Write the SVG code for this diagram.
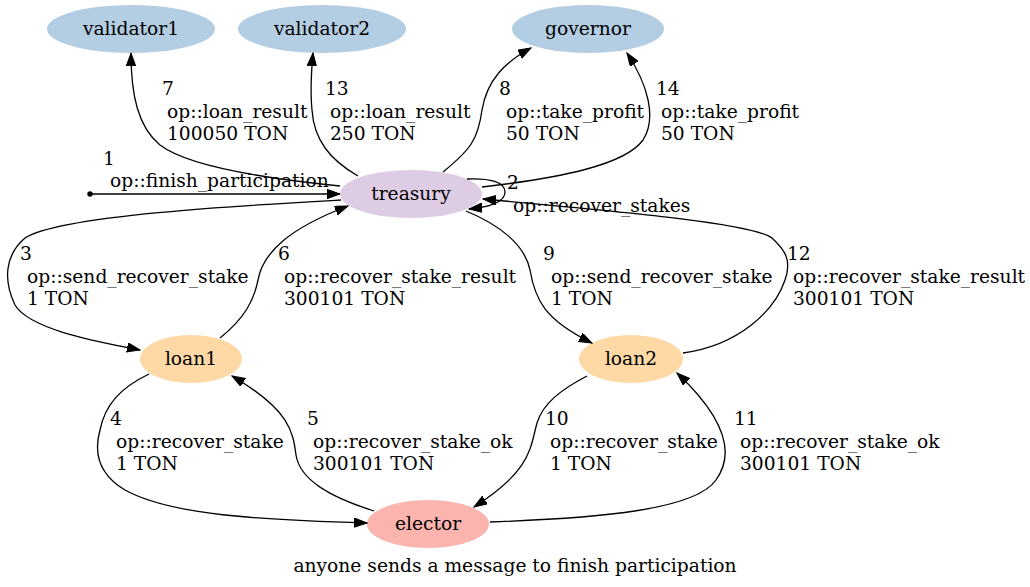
<svg xmlns="http://www.w3.org/2000/svg" width="1030" height="587" viewBox="0 0 1030 587">
<style>
text{font-family:"DejaVu Serif","Liberation Serif",serif;font-size:18.67px;fill:#000}
.n text{text-anchor:middle}
.e path{fill:none;stroke:#000;stroke-width:1.3;marker-end:url(#ah)}
.blue{fill:#b3cde3}.purp{fill:#decbe4}.org{fill:#fed9a6}.red{fill:#fbb4ae}
</style>
<defs>
<marker id="ah" markerUnits="userSpaceOnUse" markerWidth="14" markerHeight="10" refX="13" refY="4.7" orient="auto">
<path d="M0,0 L13,4.7 L0,9.4 z" fill="#000" stroke="#000" stroke-width="1"/>
</marker>
</defs>
<rect width="1030" height="587" fill="#fff"/>
<g class="n" id="validator1"><ellipse class="blue" cx="131" cy="29" rx="84" ry="24"/><text x="131" y="35">validator1</text></g>
<g class="n" id="validator2"><ellipse class="blue" cx="322" cy="29" rx="84" ry="24"/><text x="322" y="35">validator2</text></g>
<g class="n" id="governor"><ellipse class="blue" cx="588" cy="29" rx="76" ry="24"/><text x="588" y="35">governor</text></g>
<g class="n" id="treasury"><ellipse class="purp" cx="411" cy="194" rx="71" ry="24"/><text x="411" y="200">treasury</text></g>
<g class="n" id="loan1"><ellipse class="org" cx="191" cy="359" rx="51" ry="24"/><text x="191" y="365">loan1</text></g>
<g class="n" id="loan2"><ellipse class="org" cx="631" cy="359" rx="52" ry="24"/><text x="631" y="365">loan2</text></g>
<g class="n" id="elector"><ellipse class="red" cx="428" cy="524" rx="61" ry="24"/><text x="428" y="530">elector</text></g>
<g id="start"><circle cx="90" cy="194" r="2.7" fill="#000"/></g>
<g class="e" id="edges">
<path d="M92,194 L340,194"/>
<path d="M340,186 C280,180 190,168 160,145 C138,127 131,95 131,53"/>
<path d="M358,176 C330,160 314,140 312,110 C310,90 311,75 313,53"/>
<path d="M443,172 C470,150 478,140 482,110 C487,80 505,62 531,48"/>
<path d="M482,187 C560,178 625,165 643,140 C657,118 648,85 627,53"/>
<path d="M467,179 C490,178 505,182 505,192 C505,202 490,207 469,209"/>
<path d="M683,353 C740,345 775,310 785,280 C792,260 785,250 772,238 C750,222 600,210 483,199"/>
<path d="M341,200 C250,205 60,215 25,238 C5,255 3,280 15,305 C30,330 100,342 140,350"/>
<path d="M220,338 C245,318 254,300 258,280 C263,252 290,228 348,206"/>
<path d="M466,211 C500,225 525,245 530,270 C535,300 545,320 592,343"/>
<path d="M149,374 C120,388 105,405 100,430 C93,455 100,475 125,490 C170,515 260,520 367,523"/>
<path d="M374,511 C330,497 300,480 296,455 C293,432 290,410 232,376"/>
<path d="M587,376 C562,389 543,403 537,423 C530,448 532,470 474,507"/>
<path d="M490,522 C600,518 695,510 716,480 C734,455 727,420 677,373"/>
</g>
<g id="labels">
<text x="103" y="165">1</text><text x="110" y="187">op::finish_participation</text>
<text x="507" y="189">2</text><text x="513" y="212">op::recover_stakes</text>
<text x="162" y="95">7</text><text x="167" y="118">op::loan_result</text><text x="167" y="140">100050 TON</text>
<text x="325" y="95">13</text><text x="330" y="118">op::loan_result</text><text x="330" y="140">250 TON</text>
<text x="499" y="95">8</text><text x="506" y="118">op::take_profit</text><text x="506" y="140">50 TON</text>
<text x="656" y="95">14</text><text x="661" y="118">op::take_profit</text><text x="661" y="140">50 TON</text>
<text x="20" y="260">3</text><text x="27" y="283">op::send_recover_stake</text><text x="27" y="305">1 TON</text>
<text x="278" y="260">6</text><text x="284" y="283">op::recover_stake_result</text><text x="284" y="305">300101 TON</text>
<text x="543" y="260">9</text><text x="551" y="283">op::send_recover_stake</text><text x="551" y="305">1 TON</text>
<text x="787" y="260">12</text><text x="793" y="283">op::recover_stake_result</text><text x="793" y="305">300101 TON</text>
<text x="110" y="425">4</text><text x="116" y="448">op::recover_stake</text><text x="116" y="470">1 TON</text>
<text x="307" y="425">5</text><text x="313" y="448">op::recover_stake_ok</text><text x="313" y="470">300101 TON</text>
<text x="545" y="425">10</text><text x="550" y="448">op::recover_stake</text><text x="550" y="470">1 TON</text>
<text x="734" y="425">11</text><text x="740" y="448">op::recover_stake_ok</text><text x="740" y="470">300101 TON</text>
<text x="515" y="572" text-anchor="middle">anyone sends a message to finish participation</text>
</g>
</svg>
